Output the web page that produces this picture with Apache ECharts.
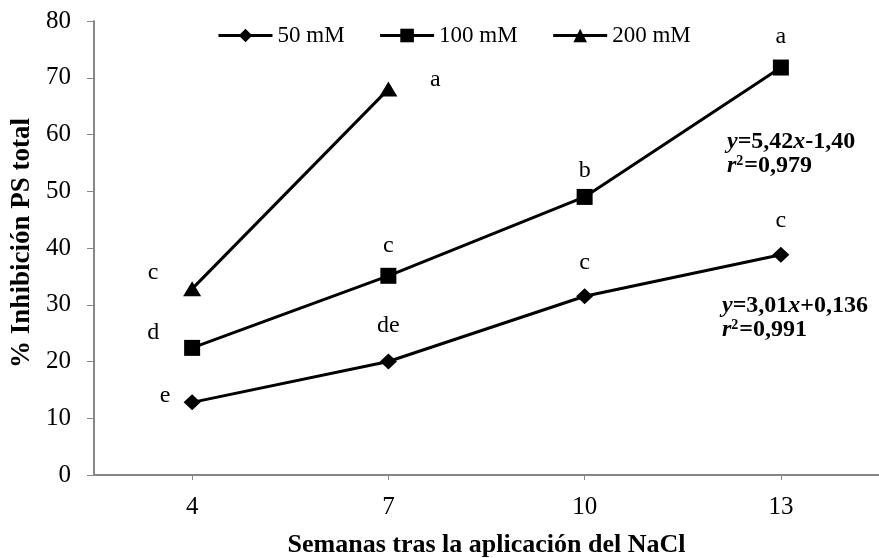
<!DOCTYPE html>
<html>
<head>
<meta charset="utf-8">
<script src="https://cdn.jsdelivr.net/npm/echarts@6/dist/echarts.min.js"></script>
<style>html,body{margin:0;padding:0;background:#fff;}#c{width:879px;height:558px;}</style>
</head>
<body>
<div id="c"></div>
<script>
var categories = ['4', '7', '10', '13'];
var s50 = [12.8, 20.0, 31.5, 38.8];
var s100 = [22.4, 35.1, 49.0, 71.8];
var s200 = [32.8, 68.0, null, null];
var letters50 = ['e', 'de', 'c', 'c'];
var letters100 = ['d', 'c', 'b', 'a'];
var letters200 = ['c', 'a', '', ''];
var yTicks = [0, 10, 20, 30, 40, 50, 60, 70, 80];

var FONT = '"Liberation Serif", "Times New Roman", serif';

// label placement style (offsets from the marker, not data)
var off50 = [[-27, -7], [0, -36], [0, -34], [0, -34]];
var off100 = [[-39, -15], [0, -30], [0, -26], [0, -31]];
var off200 = [[-39, -16], [47, -9], [0, 0], [0, 0]];

function build(vals, letters, offs) {
  return vals.map(function (v, i) {
    return {
      value: v,
      label: {
        show: !!letters[i],
        formatter: letters[i],
        position: 'inside',
        offset: offs[i],
        color: '#000',
        fontFamily: FONT,
        fontSize: 24
      }
    };
  });
}

var chart = echarts.init(document.getElementById('c'), null, {renderer: 'canvas'});
var lineStyle = {color: '#000', width: 3};
var itemStyle = {color: '#000'};
var eqRich = {
  i: {fontFamily: FONT, fontSize: 24, fontWeight: 'bold', fontStyle: 'italic', fill: '#000', lineHeight: 24},
  b: {fontFamily: FONT, fontSize: 24, fontWeight: 'bold', fill: '#000', lineHeight: 24},
  s: {fontFamily: FONT, fontSize: 14, fontWeight: 'bold', fill: '#000', lineHeight: 24, padding: [0, 1, 10, 0]}
};

chart.setOption({
  animation: false,
  backgroundColor: '#fff',
  textStyle: {fontFamily: FONT},
  legend: {
    top: 19,
    left: 212,
    itemWidth: 54,
    itemHeight: 17,
    itemGap: 34,
    lineStyle: {width: 3},
    textStyle: {fontFamily: FONT, fontSize: 23, color: '#000'},
    data: ['50 mM', '100 mM', '200 mM']
  },
  grid: {left: 94, right: 0, top: 21, bottom: 83, containLabel: false, outerBoundsMode: 'none'},
  xAxis: {
    type: 'category',
    data: categories,
    boundaryGap: true,
    name: 'Semanas tras la aplicación del NaCl',
    nameLocation: 'middle',
    nameGap: 57,
    nameTextStyle: {fontFamily: FONT, fontSize: 26, fontWeight: 'bold', color: '#000'},
    axisLine: {lineStyle: {color: '#878787', width: 2}},
    axisTick: {show: true, alignWithLabel: true, length: 5, lineStyle: {color: '#878787'}},
    axisLabel: {fontFamily: FONT, fontSize: 25, color: '#000', margin: 20}
  },
  yAxis: {
    type: 'value',
    min: yTicks[0],
    max: yTicks[yTicks.length - 1],
    interval: yTicks[1] - yTicks[0],
    name: '% Inhibición PS total',
    nameLocation: 'middle',
    nameGap: 53,
    nameTextStyle: {fontFamily: FONT, fontSize: 27, fontWeight: 'bold', color: '#000', padding: [0, 0, 0, 10]},
    axisLine: {show: true, lineStyle: {color: '#878787', width: 2}},
    axisTick: {show: true, length: 7, lineStyle: {color: '#878787'}},
    axisLabel: {fontFamily: FONT, fontSize: 25, color: '#000', margin: 23},
    splitLine: {show: false}
  },
  series: [
    {name: '50 mM', type: 'line', symbol: 'diamond', symbolSize: [17, 16],
      lineStyle: lineStyle, itemStyle: itemStyle, data: build(s50, letters50, off50)},
    {name: '100 mM', type: 'line', symbol: 'rect', symbolSize: 16,
      lineStyle: lineStyle, itemStyle: itemStyle, data: build(s100, letters100, off100)},
    {name: '200 mM', type: 'line', symbol: 'triangle', symbolSize: [18, 15],
      lineStyle: lineStyle, itemStyle: itemStyle, data: build(s200, letters200, off200)}
  ],
  graphic: [
    {type: 'text', left: 727, top: 130, style: {
      text: '{i|y}{b|=5,42}{i|x}{b|-1,40}\n{i|r}{s|2}{b|=0,979}', rich: eqRich
    }},
    {type: 'text', left: 722, top: 294, style: {
      text: '{i|y}{b|=3,01}{i|x}{b|+0,136}\n{i|r}{s|2}{b|=0,991}', rich: eqRich
    }}
  ]
});
</script>
</body>
</html>
